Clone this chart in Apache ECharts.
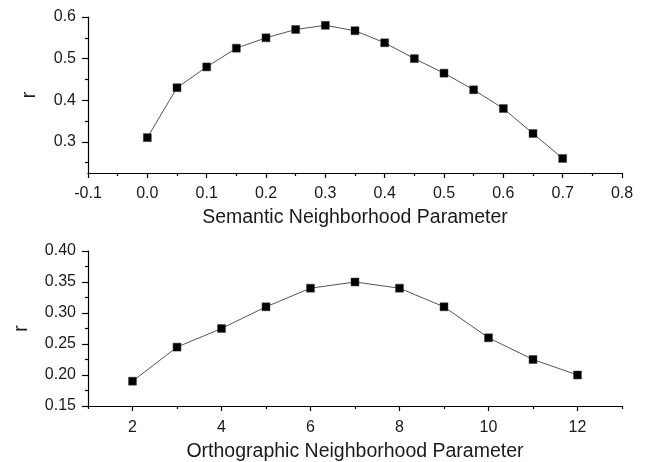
<!DOCTYPE html>
<html><head><meta charset="utf-8">
<script src="https://cdn.jsdelivr.net/npm/echarts@6/dist/echarts.min.js"></script>
<style>html,body{margin:0;padding:0;background:#fff}#c{width:645px;height:462px}</style>
</head><body><div id="c"></div>
<script>
// Top panel: Semantic Neighborhood Parameter
var semX = [0, 0.05, 0.1, 0.15, 0.2, 0.25, 0.3, 0.35, 0.4, 0.45, 0.5, 0.55, 0.6, 0.65, 0.7];
var semR = [0.31, 0.43, 0.48, 0.525, 0.55, 0.57, 0.58, 0.567, 0.538, 0.50, 0.465, 0.425, 0.38, 0.32, 0.26];
var semXLabels = [-0.1, 0, 0.1, 0.2, 0.3, 0.4, 0.5, 0.6, 0.7, 0.8];
var semXMinor = [-0.05, 0.05, 0.15, 0.25, 0.35, 0.45, 0.55, 0.65, 0.75];
var semYLabels = [0.3, 0.4, 0.5, 0.6];
var semYMinor = [0.25, 0.35, 0.45, 0.55];
// Bottom panel: Orthographic Neighborhood Parameter
var ortX = [2, 3, 4, 5, 6, 7, 8, 9, 10, 11, 12];
var ortR = [0.19, 0.245, 0.275, 0.31, 0.34, 0.35, 0.34, 0.31, 0.26, 0.225, 0.20];
var ortXLabels = [2, 4, 6, 8, 10, 12];
var ortXMinor = [1, 3, 5, 7, 9, 11, 13];
var ortYLabels = [0.15, 0.20, 0.25, 0.30, 0.35, 0.40];
var ortYMinor = [0.175, 0.225, 0.275, 0.325, 0.375];

var FONT = 'Liberation Sans, Arial, sans-serif';
var TXT = '#1a1a1a';
var LBL = 16, TTL = 19.5;
function pair(a, b) { return a.map(function (v, i) { return [v, b[i]]; }); }
function fmtSem(v) { return (Math.round(v * 10) / 10).toFixed(1); }
function fmtOrt(v) { return (Math.round(v * 100) / 100).toFixed(2); }

function majorAxis(extra) {
  var base = {
    type: 'value',
    axisLine: { show: true, onZero: false, lineStyle: { color: '#000', width: 1.2 } },
    splitLine: { show: false },
    nameTextStyle: { color: TXT, fontSize: TTL, fontFamily: FONT },
    nameLocation: 'middle'
  };
  for (var k in extra) base[k] = extra[k];
  return base;
}
function minorAxis(extra) {
  var base = {
    type: 'value',
    axisLine: { show: false, onZero: false },
    splitLine: { show: false },
    axisLabel: { show: false }
  };
  for (var k in extra) base[k] = extra[k];
  return base;
}
function ticks(len, vals) {
  return { show: true, inside: false, length: len, lineStyle: { color: '#000', width: 1.2 }, customValues: vals };
}
function labels(vals, fmt, margin) {
  var o = { color: TXT, fontSize: LBL, fontFamily: FONT, margin: margin, customValues: vals };
  if (fmt) o.formatter = fmt;
  return o;
}

var chart = echarts.init(document.getElementById('c'), null, { renderer: 'canvas' });
var option = {
  animation: false,
  backgroundColor: '#fff',
  grid: [
    { left: 88, right: 23, top: 17, height: 156, containLabel: false, outerBoundsMode: 'none' },
    { left: 88, right: 23, top: 251, height: 155, containLabel: false, outerBoundsMode: 'none' }
  ],
  xAxis: [
    majorAxis({ gridIndex: 0, min: -0.1, max: 0.8, position: 'bottom',
      name: 'Semantic Neighborhood Parameter', nameGap: 35,
      axisTick: ticks(5, semXLabels), axisLabel: labels(semXLabels, fmtSem, 13) }),
    minorAxis({ gridIndex: 0, min: -0.1, max: 0.8, position: 'bottom', axisTick: ticks(3, semXMinor) }),
    majorAxis({ gridIndex: 1, min: 1, max: 13, position: 'bottom',
      name: 'Orthographic Neighborhood Parameter', nameGap: 36,
      axisTick: ticks(5, ortXLabels), axisLabel: labels(ortXLabels, null, 14) }),
    minorAxis({ gridIndex: 1, min: 1, max: 13, position: 'bottom', axisTick: ticks(3, ortXMinor) })
  ],
  yAxis: [
    majorAxis({ gridIndex: 0, min: 0.225, max: 0.6, position: 'left',
      name: 'r', nameGap: 48,
      axisTick: ticks(6, semYLabels), axisLabel: labels(semYLabels, fmtSem, 12) }),
    minorAxis({ gridIndex: 0, min: 0.225, max: 0.6, position: 'left', axisTick: ticks(3, semYMinor) }),
    majorAxis({ gridIndex: 1, min: 0.15, max: 0.40, position: 'left',
      name: 'r', nameGap: 56,
      axisTick: ticks(6, ortYLabels), axisLabel: labels(ortYLabels, fmtOrt, 12) }),
    minorAxis({ gridIndex: 1, min: 0.15, max: 0.40, position: 'left', axisTick: ticks(3, ortYMinor) })
  ],
  series: [
    { type: 'line', xAxisIndex: 0, yAxisIndex: 0, data: pair(semX, semR),
      symbol: 'rect', symbolSize: 8, lineStyle: { color: '#555', width: 1 },
      itemStyle: { color: '#000', borderColor: '#444', borderWidth: 0.5 } },
    { type: 'line', xAxisIndex: 2, yAxisIndex: 2, data: pair(ortX, ortR),
      symbol: 'rect', symbolSize: 8, lineStyle: { color: '#555', width: 1 },
      itemStyle: { color: '#000', borderColor: '#444', borderWidth: 0.5 } }
  ]
};
chart.setOption(option);
</script></body></html>
